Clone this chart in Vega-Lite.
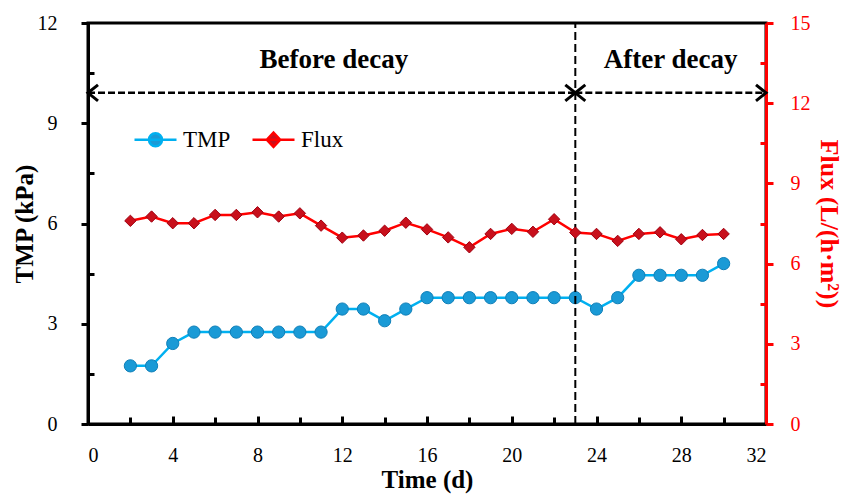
{
  "$schema": "https://vega.github.io/schema/vega-lite/v6.json",
  "width": 678,
  "height": 401,
  "autosize": "none",
  "padding": {"left": 88, "top": 23, "right": 78, "bottom": 71},
  "background": "white",
  "config": {
    "view": {"stroke": "black", "strokeWidth": 3},
    "font": "Liberation Serif",
    "axis": {"grid": false, "ticks": true, "tickOpacity": 1, "zindex": 1, "labelFont": "Liberation Serif", "titleFont": "Liberation Serif"}
  },
  "datasets": {
    "tmp": [
      {"day": 2, "series": "TMP", "value": 1.74},
      {"day": 3, "series": "TMP", "value": 1.74},
      {"day": 4, "series": "TMP", "value": 2.41},
      {"day": 5, "series": "TMP", "value": 2.75},
      {"day": 6, "series": "TMP", "value": 2.75},
      {"day": 7, "series": "TMP", "value": 2.75},
      {"day": 8, "series": "TMP", "value": 2.75},
      {"day": 9, "series": "TMP", "value": 2.75},
      {"day": 10, "series": "TMP", "value": 2.75},
      {"day": 11, "series": "TMP", "value": 2.75},
      {"day": 12, "series": "TMP", "value": 3.44},
      {"day": 13, "series": "TMP", "value": 3.44},
      {"day": 14, "series": "TMP", "value": 3.09},
      {"day": 15, "series": "TMP", "value": 3.44},
      {"day": 16, "series": "TMP", "value": 3.78},
      {"day": 17, "series": "TMP", "value": 3.78},
      {"day": 18, "series": "TMP", "value": 3.78},
      {"day": 19, "series": "TMP", "value": 3.78},
      {"day": 20, "series": "TMP", "value": 3.78},
      {"day": 21, "series": "TMP", "value": 3.78},
      {"day": 22, "series": "TMP", "value": 3.78},
      {"day": 23, "series": "TMP", "value": 3.78},
      {"day": 24, "series": "TMP", "value": 3.44},
      {"day": 25, "series": "TMP", "value": 3.78},
      {"day": 26, "series": "TMP", "value": 4.45},
      {"day": 27, "series": "TMP", "value": 4.45},
      {"day": 28, "series": "TMP", "value": 4.45},
      {"day": 29, "series": "TMP", "value": 4.45},
      {"day": 30, "series": "TMP", "value": 4.8}
    ],
    "flux": [
      {"day": 2, "series": "Flux", "value": 7.6},
      {"day": 3, "series": "Flux", "value": 7.76},
      {"day": 4, "series": "Flux", "value": 7.51},
      {"day": 5, "series": "Flux", "value": 7.51},
      {"day": 6, "series": "Flux", "value": 7.82},
      {"day": 7, "series": "Flux", "value": 7.82},
      {"day": 8, "series": "Flux", "value": 7.92},
      {"day": 9, "series": "Flux", "value": 7.76},
      {"day": 10, "series": "Flux", "value": 7.88},
      {"day": 11, "series": "Flux", "value": 7.42},
      {"day": 12, "series": "Flux", "value": 6.97},
      {"day": 13, "series": "Flux", "value": 7.05},
      {"day": 14, "series": "Flux", "value": 7.23},
      {"day": 15, "series": "Flux", "value": 7.53},
      {"day": 16, "series": "Flux", "value": 7.28},
      {"day": 17, "series": "Flux", "value": 6.98},
      {"day": 18, "series": "Flux", "value": 6.61},
      {"day": 19, "series": "Flux", "value": 7.11},
      {"day": 20, "series": "Flux", "value": 7.3},
      {"day": 21, "series": "Flux", "value": 7.19},
      {"day": 22, "series": "Flux", "value": 7.66},
      {"day": 23, "series": "Flux", "value": 7.16},
      {"day": 24, "series": "Flux", "value": 7.11},
      {"day": 25, "series": "Flux", "value": 6.85},
      {"day": 26, "series": "Flux", "value": 7.11},
      {"day": 27, "series": "Flux", "value": 7.17},
      {"day": 28, "series": "Flux", "value": 6.91},
      {"day": 29, "series": "Flux", "value": 7.07},
      {"day": 30, "series": "Flux", "value": 7.11}
    ],
    "vline": [{"x": 23, "y1": 0, "y2": 12}],
    "arrows": [
      {"x1": 0, "x2": 23, "y": 9.91},
      {"x1": 23, "x2": 32, "y": 9.91}
    ],
    "heads": [
      {"x": 0, "y": 9.91, "dir": "left"},
      {"x": 23, "y": 9.91, "dir": "right"},
      {"x": 23, "y": 9.91, "dir": "left"},
      {"x": 32, "y": 9.91, "dir": "right"}
    ],
    "labels": [
      {"x": 11.6, "y": 10.65, "text": "Before decay"},
      {"x": 27.5, "y": 10.65, "text": "After decay"}
    ]
  },
  "layer": [
    {
      "layer": [
        {
          "data": {"name": "tmp"},
          "mark": {"type": "line", "strokeWidth": 2.5},
          "encoding": {
            "x": {
              "field": "day", "type": "quantitative",
              "scale": {"domain": [0, 32], "nice": false, "zero": false},
              "axis": {
                "values": [0, 2, 4, 6, 8, 10, 12, 14, 16, 18, 20, 22, 24, 26, 28, 30, 32],
                "labelExpr": "datum.value % 4 === 0 ? datum.label : ''",
                "tickSize": {"condition": {"test": "datum.value % 4 === 0", "value": -8}, "value": -7},
                "tickWidth": 3, "tickColor": "black",
                "domainColor": "black", "domainWidth": 3,
                "labelFontSize": 20, "labelColor": "black", "labelPadding": 29,
                "title": "Time  (d)", "titleFontSize": 25, "titleFontWeight": "bold",
                "titleColor": "black", "titlePadding": 2
              }
            },
            "y": {
              "field": "value", "type": "quantitative",
              "scale": {"domain": [0, 12], "nice": false},
              "axis": {
                "values": [0, 1.5, 3, 4.5, 6, 7.5, 9, 10.5, 12],
                "labelExpr": "datum.value % 3 === 0 ? datum.label : ''",
                "tickSize": {"condition": {"test": "datum.value % 3 === 0", "value": 7}, "value": -6},
                "tickWidth": 3, "tickColor": "black",
                "domainColor": "black", "domainWidth": 3,
                "labelFontSize": 20, "labelColor": "black", "labelPadding": 24,
                "title": "TMP (kPa)", "titleFontSize": 25, "titleFontWeight": "bold",
                "titleColor": "black", "titlePadding": 0
              }
            },
            "color": {
              "field": "series", "type": "nominal",
              "scale": {"domain": ["TMP", "Flux"], "range": ["#00b0f0", "#ff0000"]},
              "legend": {
                "orient": "none", "legendX": 45, "legendY": 94, "direction": "horizontal",
                "title": null, "padding": 0,
                "labelFont": "Liberation Serif", "labelFontSize": 23, "labelColor": "black",
                "labelOffset": 5, "columnPadding": 16, "symbolSize": 1764,
                "encode": {
                  "symbols": {
                    "update": {
                      "shape": {"signal": "datum.value === 'TMP' ? 'M-1,0L1,0M-0.31,0A0.31,0.31 0 1,1 0.31,0A0.31,0.31 0 1,1 -0.31,0Z' : 'M-1,0L1,0M0,-0.34L0.32,0L0,0.34L-0.32,0Z'"},
                      "fill": {"signal": "datum.value === 'TMP' ? '#1a9ad6' : '#c8101c'"},
                      "fillOpacity": {"value": 1},
                      "stroke": {"signal": "datum.value === 'TMP' ? '#00b0f0' : '#ff0000'"},
                      "strokeWidth": {"value": 2.5}
                    }
                  }
                }
              }
            }
          }
        },
        {
          "data": {"name": "tmp"},
          "mark": {"type": "point", "filled": true, "shape": "circle", "size": 150, "color": "#1a9ad6", "opacity": 1, "stroke": "#0f7fb8", "strokeWidth": 1},
          "encoding": {
            "x": {"field": "day", "type": "quantitative"},
            "y": {"field": "value", "type": "quantitative"}
          }
        },
        {
          "data": {"name": "vline"},
          "mark": {"type": "rule", "color": "black", "strokeWidth": 2, "strokeDash": [8, 4]},
          "encoding": {
            "x": {"field": "x", "type": "quantitative"},
            "y": {"field": "y1", "type": "quantitative"},
            "y2": {"field": "y2"}
          }
        },
        {
          "data": {"name": "arrows"},
          "mark": {"type": "rule", "color": "black", "strokeWidth": 2.5, "strokeDash": [7, 3]},
          "encoding": {
            "x": {"field": "x1", "type": "quantitative"},
            "x2": {"field": "x2"},
            "y": {"field": "y", "type": "quantitative"}
          }
        },
        {
          "data": {"name": "heads"},
          "mark": {"type": "point", "filled": false, "strokeWidth": 3, "color": "black", "opacity": 1, "size": 256},
          "encoding": {
            "x": {"field": "x", "type": "quantitative"},
            "y": {"field": "y", "type": "quantitative"},
            "shape": {
              "field": "dir", "type": "nominal",
              "scale": {"domain": ["left", "right"], "range": ["M1.25,-1L0,0L1.25,1", "M-1.25,-1L0,0L-1.25,1"]},
              "legend": null
            }
          }
        },
        {
          "data": {"name": "labels"},
          "mark": {"type": "text", "font": "Liberation Serif", "fontSize": 27, "fontWeight": "bold", "color": "black", "align": "center", "baseline": "alphabetic"},
          "encoding": {
            "x": {"field": "x", "type": "quantitative"},
            "y": {"field": "y", "type": "quantitative"},
            "text": {"field": "text"}
          }
        }
      ]
    },
    {
      "layer": [
        {
          "data": {"name": "flux"},
          "mark": {"type": "line", "strokeWidth": 2.5},
          "encoding": {
            "x": {"field": "day", "type": "quantitative"},
            "y": {
              "field": "value", "type": "quantitative",
              "scale": {"domain": [0, 15], "nice": false},
              "axis": {
                "orient": "right",
                "values": [0, 1.5, 3, 4.5, 6, 7.5, 9, 10.5, 12, 13.5, 15],
                "labelExpr": "datum.value % 3 === 0 ? datum.label : ''",
                "tickSize": {"condition": {"test": "datum.value % 3 === 0", "value": 7}, "value": -6},
                "tickWidth": 3, "tickColor": "#ff0000",
                "domainColor": "#ff0000", "domainWidth": 3,
                "labelFontSize": 20, "labelColor": "#ff0000", "labelPadding": 17,
                "title": "Flux (L/(h·m²))", "titleFontSize": 26, "titleFontWeight": "bold",
                "titleColor": "#ff0000", "titlePadding": 5
              }
            },
            "color": {"field": "series", "type": "nominal"}
          }
        },
        {
          "data": {"name": "flux"},
          "mark": {"type": "point", "filled": true, "shape": "diamond", "size": 130, "color": "#c8101c", "opacity": 1, "stroke": "#a00010", "strokeWidth": 1},
          "encoding": {
            "x": {"field": "day", "type": "quantitative"},
            "y": {"field": "value", "type": "quantitative"}
          }
        }
      ]
    }
  ],
  "resolve": {"scale": {"y": "independent"}}
}
